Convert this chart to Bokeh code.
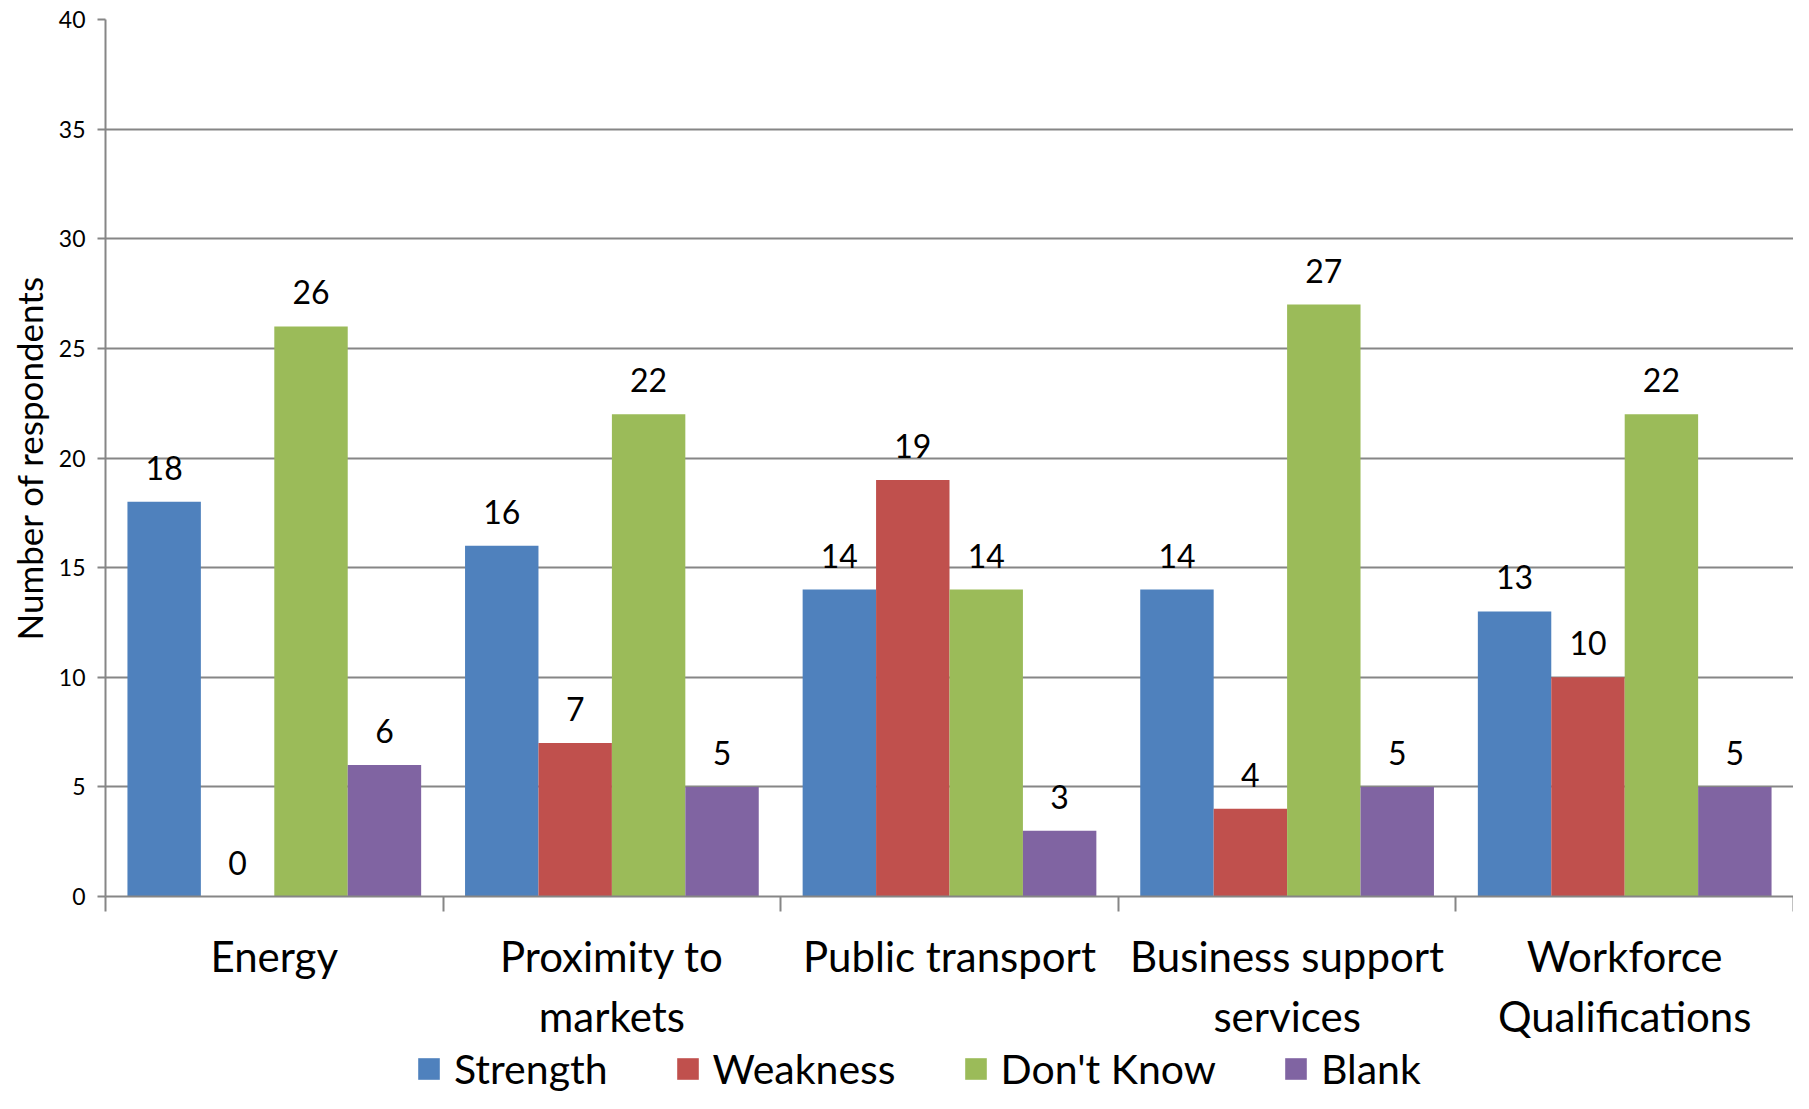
from bokeh.plotting import figure
from bokeh.models import (ColumnDataSource, Range1d, FixedTicker, LabelSet,
                          Legend, LegendItem)
from bokeh.layouts import column
from bokeh.transform import dodge
from bokeh.core.properties import value
from bokeh.embed import file_html
from bokeh.resources import INLINE

categories = ["Energy", "Proximity to\nmarkets", "Public transport",
              "Business support\nservices", "Workforce\nQualifications"]
series_names = ["Strength", "Weakness", "Don't Know", "Blank"]
strength = [18, 16, 14, 14, 13]
weakness = [0, 7, 19, 4, 10]
dont_know = [26, 22, 14, 27, 22]
blank = [6, 5, 3, 5, 5]
y_ticks = [0, 5, 10, 15, 20, 25, 30, 35, 40]

colors = ["#4F81BD", "#C0504D", "#9BBB59", "#8064A2"]
FONT = "Lato"
GRAY = "#868686"

centers = [i + 0.5 for i in range(len(categories))]
src = ColumnDataSource(dict(
    x=centers,
    s0=strength, s1=weakness, s2=dont_know, s3=blank,
    t0=[str(v) for v in strength], t1=[str(v) for v in weakness],
    t2=[str(v) for v in dont_know], t3=[str(v) for v in blank],
))

W = 1793
H_MAIN = 1043
H_LEG = 50
FRAME_LEFT = 105

p = figure(width=W, height=H_MAIN, output_backend="svg", toolbar_location=None,
           x_range=Range1d(0, len(categories)), y_range=Range1d(0, 40),
           min_border_left=FRAME_LEFT, min_border_right=0, min_border_top=19,
           min_border_bottom=H_MAIN - 897)
p.outline_line_color = None
p.background_fill_color = "white"
p.border_fill_color = "white"

bw = 0.2175
offsets = [-1.5 * bw, -0.5 * bw, 0.5 * bw, 1.5 * bw]
for k in range(4):
    p.vbar(x=dodge("x", offsets[k]), top="s%d" % k, width=bw, source=src,
           fill_color=colors[k], line_color=None)
    lbl = LabelSet(x=dodge("x", offsets[k]), y="s%d" % k, text="t%d" % k,
                   source=src, text_align="center", text_baseline="alphabetic",
                   y_offset=22, text_font=value(FONT), text_font_size="32px",
                   text_color="black")
    p.add_layout(lbl)

# Y axis
p.yaxis.ticker = FixedTicker(ticks=y_ticks)
p.yaxis.axis_line_color = GRAY
p.yaxis.axis_line_width = 2
p.yaxis.major_tick_line_color = GRAY
p.yaxis.major_tick_line_width = 2
p.yaxis.major_tick_out = 8
p.yaxis.major_tick_in = 0
p.yaxis.minor_tick_line_color = None
p.yaxis.major_label_text_font = FONT
p.yaxis.major_label_text_font_size = "23px"
p.yaxis.major_label_text_color = "black"
p.yaxis.major_label_standoff = 12
p.yaxis.axis_label = "Number of respondents"
p.yaxis.axis_label_text_font = FONT
p.yaxis.axis_label_text_font_size = "35px"
p.yaxis.axis_label_text_font_style = "normal"
p.yaxis.axis_label_text_color = "black"
p.yaxis.axis_label_standoff = 6

# X axis
p.xaxis.ticker = FixedTicker(ticks=centers, minor_ticks=list(range(len(categories) + 1)))
p.xaxis.major_label_overrides = {c: categories[i] for i, c in enumerate(centers)}
p.xaxis.axis_line_color = GRAY
p.xaxis.axis_line_width = 2
p.xaxis.major_tick_line_color = None
p.xaxis.minor_tick_line_color = GRAY
p.xaxis.minor_tick_line_width = 2
p.xaxis.minor_tick_out = 15
p.xaxis.minor_tick_in = 0
p.xaxis.major_label_text_font = FONT
p.xaxis.major_label_text_font_size = "42px"
p.xaxis.major_label_text_line_height = 1.2
p.xaxis.major_label_text_color = "black"
p.xaxis.major_label_standoff = 19

p.xgrid.grid_line_color = None
p.ygrid.ticker = FixedTicker(ticks=y_ticks)
p.ygrid.grid_line_color = GRAY
p.ygrid.grid_line_width = 2

# Legend strip below the chart (renderers hidden; only used for legend swatches)
pl = figure(width=W, height=H_LEG, output_backend="svg", toolbar_location=None,
            x_range=Range1d(0, 1), y_range=Range1d(0, 1),
            x_axis_location=None, y_axis_location=None,
            min_border_left=0, min_border_right=0, min_border_top=0,
            min_border_bottom=0)
pl.outline_line_color = None
pl.grid.visible = False
leg_renderers = []
for k in range(4):
    r = pl.vbar(x="x", top="s%d" % k, width=0.1, source=src,
                fill_color=colors[k], line_color=None)
    r.visible = False
    leg_renderers.append(r)

legend = Legend(items=[LegendItem(label=series_names[k], renderers=[leg_renderers[k]])
                       for k in range(4)],
                orientation="horizontal", location=(415 - FRAME_LEFT, 0),
                border_line_color=None, background_fill_alpha=0,
                inactive_fill_alpha=0,
                glyph_width=27, glyph_height=27, label_standoff=12, spacing=66,
                padding=0, margin=0,
                label_text_font=FONT, label_text_font_size="41px",
                label_text_color="black")
pl.add_layout(legend, "center")

layout = column(p, pl, spacing=0)
open("out.html", "w").write(file_html(layout, INLINE))
